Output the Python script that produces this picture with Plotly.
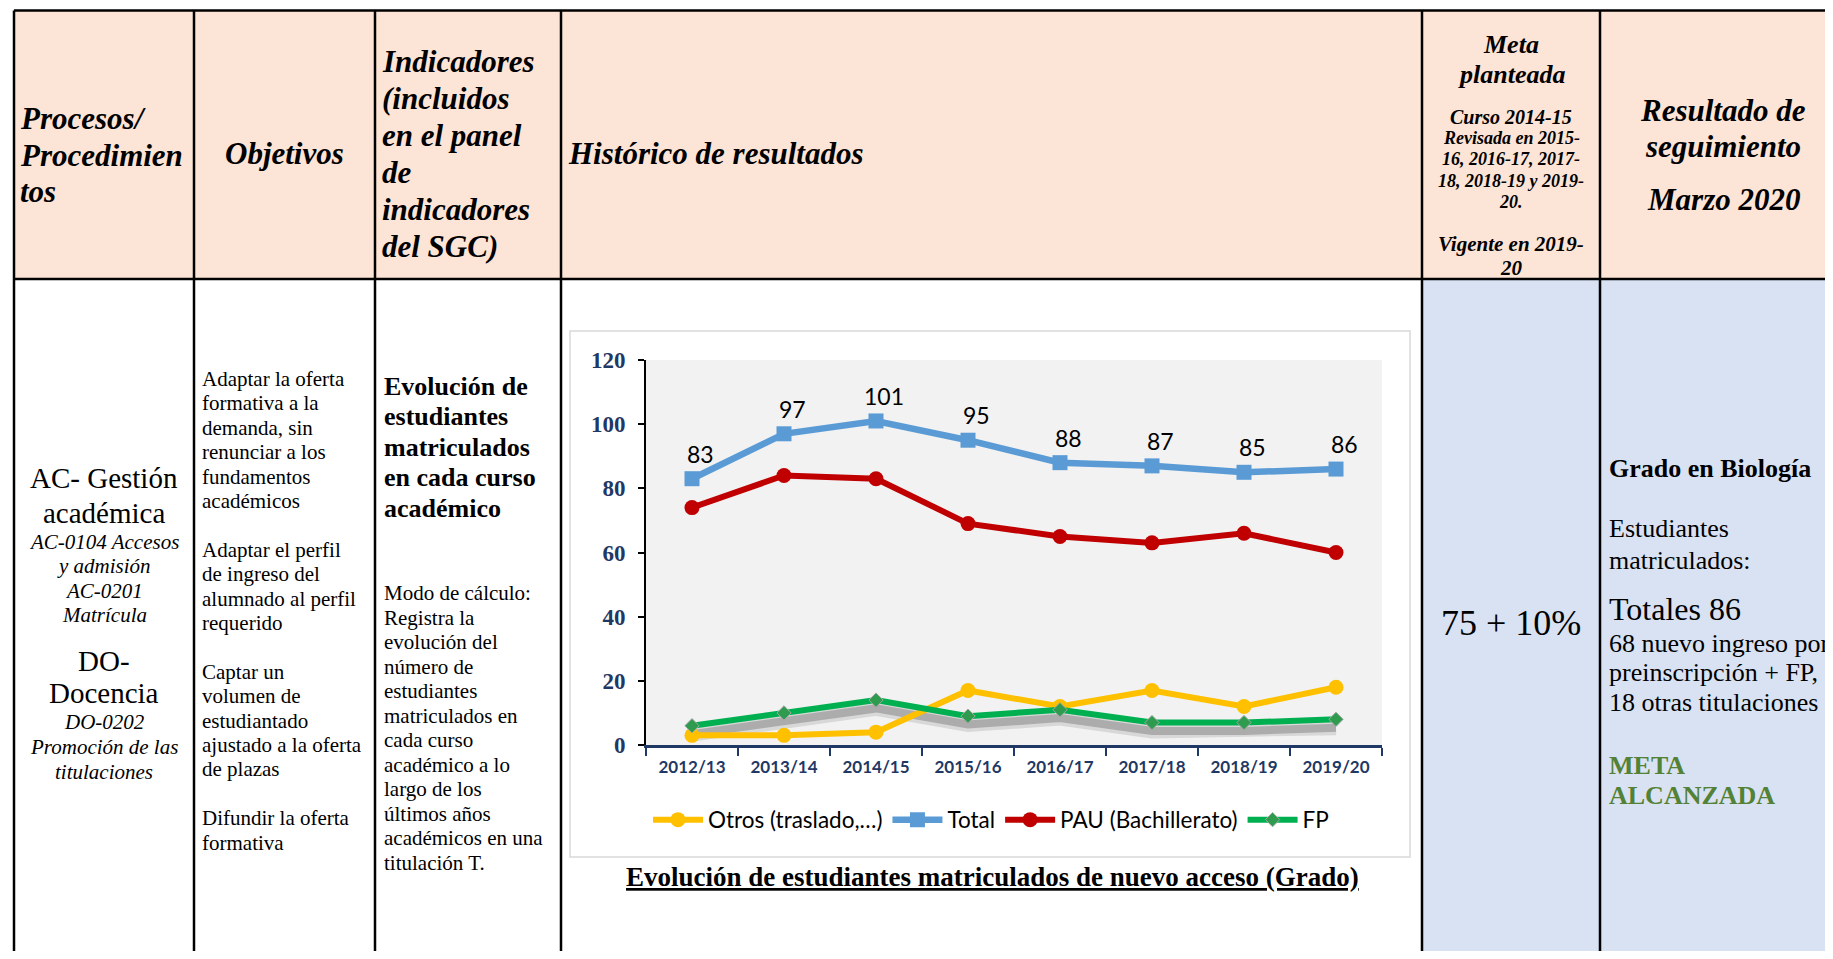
import plotly.graph_objects as go

# chart data
years = ["2012/13", "2013/14", "2014/15", "2015/16", "2016/17", "2017/18", "2018/19", "2019/20"]
otros = [3, 3, 4, 17, 12, 17, 12, 18]
total = [83, 97, 101, 95, 88, 87, 85, 86]
pau = [74, 84, 83, 69, 65, 63, 66, 60]
fp = [6, 10, 14, 9, 11, 7, 7, 8]
y_ticks = [0, 20, 40, 60, 80, 100, 120]

# page size (body keeps its 8px default margin)
W, H, OFF = 1817, 943, 8

SERIF = "Liberation Serif, Times New Roman, serif"
SANS = "Lato, Carlito, Calibri, sans-serif"
NAVY = "#1F3864"


def px(x):
    return (x - OFF) / W


def py(y):
    return 1 - (y - OFF) / H


annotations = []
shapes = []


def txt(s, x, y, size, anchor="left", bold=False, italic=False, color="black", font=SERIF):
    if bold:
        s = f"<b>{s}</b>"
    if italic:
        s = f"<i>{s}</i>"
    if anchor == "left":
        x -= 3  # annotation box padding
    annotations.append(dict(text=s, x=px(x), y=py(y), xref="paper", yref="paper",
                            xanchor=anchor, yanchor="middle", showarrow=False,
                            font=dict(family=font, size=size, color=color)))


def block(lines, x, y0, dy, size, **kw):
    for i, line in enumerate(lines):
        if line:
            txt(line, x, y0 + i * dy, size, **kw)


def rect(x0, y0, x1, y1, fill, line_color=None, width=0):
    shapes.append(dict(type="rect", xref="paper", yref="paper",
                       x0=px(x0), x1=px(x1), y0=py(y1), y1=py(y0),
                       fillcolor=fill, line=dict(color=line_color or fill, width=width),
                       layer="below"))


def line(x0, y0, x1, y1, width=2.5):
    shapes.append(dict(type="line", xref="paper", yref="paper",
                       x0=px(x0), y0=py(y0), x1=px(x1), y1=py(y1),
                       line=dict(color="black", width=width), layer="above"))


# table background and grid
rect(14, 10.5, 1860, 279, "#FCE4D6")
rect(1422, 279, 1860, 980, "#D9E2F3")
rect(570, 331, 1410, 857, "rgba(0,0,0,0)", "#D9D9D9", 1.5)
line(14, 10.5, 1860, 10.5)
line(14, 279, 1860, 279)
for cx in [14, 194, 375, 561, 1422, 1600]:
    line(cx, 10.5, cx, 980)

# header row
block(["Procesos/", "Procedimien", "tos"], 21, 118, 37, 31, bold=True, italic=True)
txt("Objetivos", 284, 154, 31, anchor="center", bold=True, italic=True)
block(["Indicadores", "(incluidos", "en el panel", "de", "indicadores", "del SGC)"],
      383, 62, 36.8, 31, bold=True, italic=True)
txt("Histórico de resultados", 569, 154, 31, bold=True, italic=True)
block(["Meta", "planteada"], 1511, 44, 30, 26, anchor="center", bold=True, italic=True)
txt("Curso 2014-15", 1511, 117, 20, anchor="center", bold=True, italic=True)
block(["Revisada en 2015-", "16, 2016-17, 2017-", "18, 2018-19 y 2019-", "20."],
      1511, 138, 21.3, 18, anchor="center", bold=True, italic=True)
block(["Vigente en 2019-", "20"], 1511, 244, 24, 21, anchor="center", bold=True, italic=True)
block(["Resultado de", "seguimiento"], 1723, 110, 36, 31, anchor="center", bold=True, italic=True)
txt("Marzo 2020", 1723, 199, 31, anchor="center", bold=True, italic=True)

# body: column 1
block(["AC- Gestión", "académica"], 104, 478, 35, 29, anchor="center")
block(["AC-0104 Accesos", "y admisión", "AC-0201", "Matrícula"], 104, 542, 24.3, 21,
      anchor="center", italic=True)
block(["DO-", "Docencia"], 104, 661, 32, 29, anchor="center")
block(["DO-0202", "Promoción de las", "titulaciones"], 104, 722, 25, 21,
      anchor="center", italic=True)

# body: column 2
block(["Adaptar la oferta", "formativa a la", "demanda, sin", "renunciar a los",
       "fundamentos", "académicos", "",
       "Adaptar el perfil", "de ingreso del", "alumnado al perfil", "requerido", "",
       "Captar un", "volumen de", "estudiantado", "ajustado a la oferta", "de plazas", "",
       "Difundir la oferta", "formativa"], 203, 379, 24.4, 21)

# body: column 3
block(["Evolución de", "estudiantes", "matriculados", "en cada curso", "académico"],
      385, 386, 30.5, 26, bold=True)
block(["Modo de cálculo:", "Registra la", "evolución del", "número de", "estudiantes",
       "matriculados en", "cada curso", "académico a lo", "largo de los", "últimos años",
       "académicos en una", "titulación T."], 385, 593, 24.5, 21)

# body: columns 4 and 5
txt("75 + 10%", 1511, 623, 36, anchor="center")
txt("Grado en Biología", 1610, 468, 26, bold=True)
block(["Estudiantes", "matriculados:"], 1610, 528, 32, 26)
txt("Totales 86", 1610, 609, 32)
block(["68 nuevo ingreso por", "preinscripción + FP,", "18 otras titulaciones"],
      1610, 643, 29.5, 26)
block(["META", "ALCANZADA"], 1610, 765, 30, 26, bold=True, color="#538135")

# chart caption
txt("<u>Evolución de estudiantes matriculados de nuevo acceso (Grado)</u>",
    992, 877, 27, anchor="center", bold=True)

# data labels for the total series
for yr, v in zip(years, total):
    annotations.append(dict(text=str(v), x=yr, y=v, xref="x", yref="y", showarrow=False,
                            xshift=8, yshift=25,
                            font=dict(family=SANS, size=23, color="black")))

fig = go.Figure()

# soft shadow under the FP line (same values on a slightly shifted hidden axis)
fig.add_trace(go.Scatter(x=years, y=fp, yaxis="y2", mode="lines", showlegend=False,
                         hoverinfo="skip", line=dict(color="rgba(70,70,70,0.15)", width=15)))
fig.add_trace(go.Scatter(x=years, y=fp, yaxis="y2", mode="lines", showlegend=False,
                         hoverinfo="skip", line=dict(color="rgba(70,70,70,0.3)", width=8)))

fig.add_trace(go.Scatter(x=years, y=otros, name="Otros (traslado,…)", yaxis="y3",
                         mode="lines+markers", line=dict(color="#FFC000", width=6),
                         marker=dict(symbol="circle", size=15, color="#FFC000")))
fig.add_trace(go.Scatter(x=years, y=total, name="Total", yaxis="y3",
                         mode="lines+markers", line=dict(color="#5B9BD5", width=6.5),
                         marker=dict(symbol="square", size=15, color="#5B9BD5")))
fig.add_trace(go.Scatter(x=years, y=pau, name="PAU (Bachillerato)", yaxis="y3",
                         mode="lines+markers", line=dict(color="#C00000", width=6),
                         marker=dict(symbol="circle", size=15, color="#C00000")))
fig.add_trace(go.Scatter(x=years, y=fp, name="FP", yaxis="y3",
                         mode="lines+markers", line=dict(color="#00B050", width=6),
                         marker=dict(symbol="diamond", size=11, color="#2E9B4E",
                                     line=dict(color="#A6A6A6", width=1))))

ydom = [py(745), py(360)]
fig.update_layout(
    width=W, height=H,
    margin=dict(l=0, r=0, t=0, b=0, autoexpand=False),
    paper_bgcolor="white",
    plot_bgcolor="#F2F2F2",
    hovermode=False,
    xaxis=dict(domain=[px(646), px(1382)], type="category", categoryarray=years,
               range=[-0.5, 7.5], showline=True, linecolor=NAVY, linewidth=2.5,
               ticks="outside", tickson="boundaries", ticklen=8, tickwidth=2,
               tickcolor=NAVY, ticklabelstandoff=5, showgrid=False, zeroline=False,
               automargin=False,
               tickfont=dict(family=SANS, size=17, color=NAVY, weight="bold")),
    yaxis=dict(domain=ydom, range=[0, 120], tickvals=y_ticks, showline=True,
               linecolor="black", linewidth=2, ticks="outside", ticklen=6, tickwidth=2,
               tickcolor="black", ticklabelstandoff=8, showgrid=False, zeroline=False,
               automargin=False,
               tickfont=dict(family=SERIF, size=23, color=NAVY, weight="bold")),
    yaxis2=dict(domain=ydom, overlaying="y", range=[2.6, 122.6], visible=False),
    yaxis3=dict(domain=ydom, overlaying="y", range=[0, 120], visible=False),
    legend=dict(orientation="h", x=px(991), xanchor="center", y=py(820), yanchor="middle",
                font=dict(family=SANS, size=22.5, color="black"), itemwidth=50,
                bgcolor="rgba(0,0,0,0)", traceorder="normal"),
    shapes=shapes,
    annotations=annotations,
)

fig.write_html("out.html")
